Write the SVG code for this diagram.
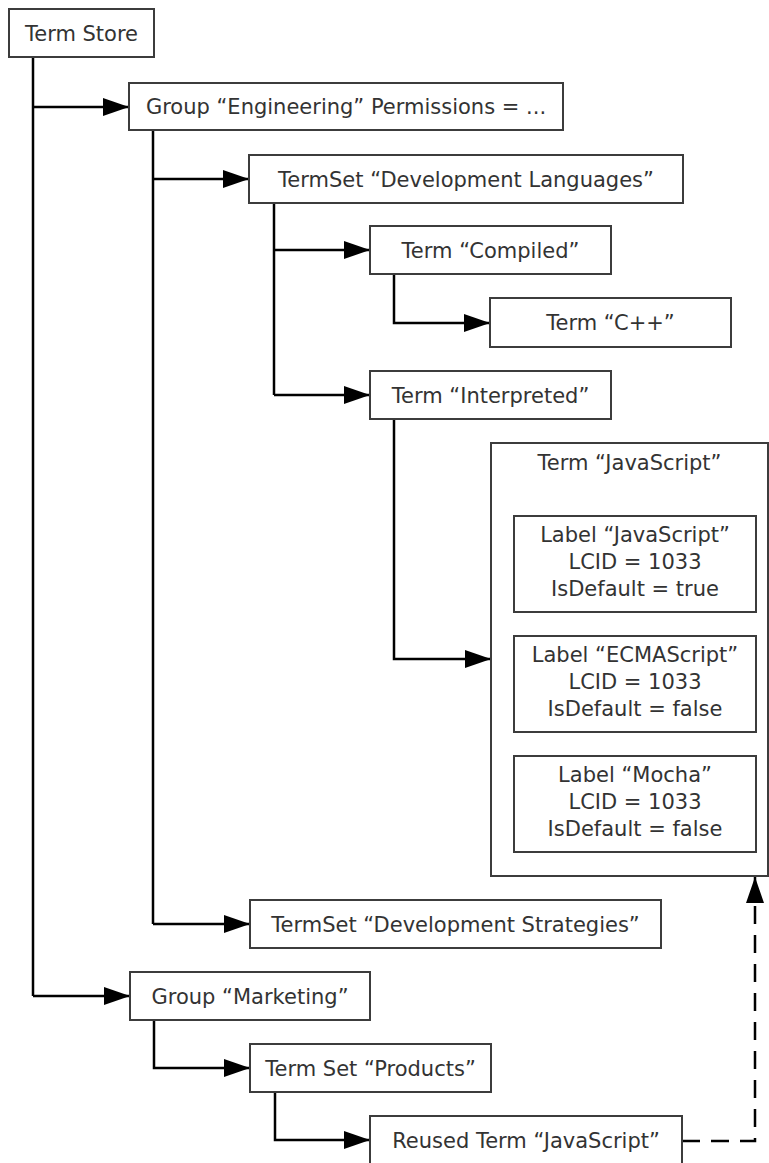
<svg xmlns="http://www.w3.org/2000/svg" width="769" height="1163" viewBox="0 0 769 1163">
<style>
.box{fill:#fff;stroke:#3c3c3c;stroke-width:2}
.t{font-family:"DejaVu Sans",Verdana,sans-serif;font-size:21px;fill:#333;text-anchor:middle}
.c{fill:none;stroke:#000;stroke-width:2.5}
.d{fill:none;stroke:#000;stroke-width:2.5;stroke-dasharray:18 11}
</style>
<defs>
<marker id="ah" markerUnits="userSpaceOnUse" viewBox="0 0 26 18" refX="26" refY="9" markerWidth="26" markerHeight="18" orient="auto">
<path d="M0,0 L26,9 L0,18 Z" fill="#000"/>
</marker>
</defs>
<g id="connectors">
<path class="c" d="M33,57 V996"/>
<path class="c" d="M33,107 H129" marker-end="url(#ah)"/>
<path class="c" d="M33,996 H130" marker-end="url(#ah)"/>
<path class="c" d="M153,130 V924"/>
<path class="c" d="M153,179 H249" marker-end="url(#ah)"/>
<path class="c" d="M153,924 H250" marker-end="url(#ah)"/>
<path class="c" d="M274,203 V395"/>
<path class="c" d="M274,250 H370" marker-end="url(#ah)"/>
<path class="c" d="M274,395 H370" marker-end="url(#ah)"/>
<path class="c" d="M394,274 V323 H490" marker-end="url(#ah)"/>
<path class="c" d="M394,419 V659 H491" marker-end="url(#ah)"/>
<path class="c" d="M154,1020 V1068 H250" marker-end="url(#ah)"/>
<path class="c" d="M275,1092 V1140 H370" marker-end="url(#ah)"/>
<path class="d" d="M682,1141 H755 V877" marker-end="url(#ah)"/>
</g>
<g id="term-store"><rect class="box" x="9" y="9" width="145" height="48"/><text class="t" x="81.5" y="40.5">Term Store</text></g>
<g id="group-engineering"><rect class="box" x="129" y="83" width="434" height="47"/><text class="t" x="346" y="114">Group “Engineering” Permissions = ...</text></g>
<g id="termset-dev-languages"><rect class="box" x="249" y="155" width="434" height="48"/><text class="t" x="466" y="186.5">TermSet “Development Languages”</text></g>
<g id="term-compiled"><rect class="box" x="370" y="226" width="241" height="48"/><text class="t" x="490.5" y="257.5">Term “Compiled”</text></g>
<g id="term-cpp"><rect class="box" x="490" y="298" width="241" height="49"/><text class="t" x="610.5" y="330">Term “C++”</text></g>
<g id="term-interpreted"><rect class="box" x="370" y="371" width="241" height="48"/><text class="t" x="490.5" y="402.5">Term “Interpreted”</text></g>
<g id="term-javascript">
<rect class="box" x="491" y="443" width="277" height="433"/>
<text class="t" x="629.5" y="470">Term “JavaScript”</text>
<rect class="box" x="514" y="516" width="242" height="96"/>
<text class="t" x="635" y="542">Label “JavaScript”</text>
<text class="t" x="635" y="569">LCID = 1033</text>
<text class="t" x="635" y="596">IsDefault = true</text>
<rect class="box" x="514" y="636" width="242" height="96"/>
<text class="t" x="635" y="662">Label “ECMAScript”</text>
<text class="t" x="635" y="689">LCID = 1033</text>
<text class="t" x="635" y="716">IsDefault = false</text>
<rect class="box" x="514" y="756" width="242" height="96"/>
<text class="t" x="635" y="782">Label “Mocha”</text>
<text class="t" x="635" y="809">LCID = 1033</text>
<text class="t" x="635" y="836">IsDefault = false</text>
</g>
<g id="termset-dev-strategies"><rect class="box" x="250" y="900" width="411" height="48"/><text class="t" x="455.5" y="931.5">TermSet “Development Strategies”</text></g>
<g id="group-marketing"><rect class="box" x="130" y="972" width="240" height="48"/><text class="t" x="250" y="1003.5">Group “Marketing”</text></g>
<g id="termset-products"><rect class="box" x="250" y="1044" width="241" height="48"/><text class="t" x="370.5" y="1075.5">Term Set “Products”</text></g>
<g id="reused-term"><rect class="box" x="370" y="1116" width="312" height="52"/><text class="t" x="526" y="1147.5">Reused Term “JavaScript”</text></g>
</svg>
